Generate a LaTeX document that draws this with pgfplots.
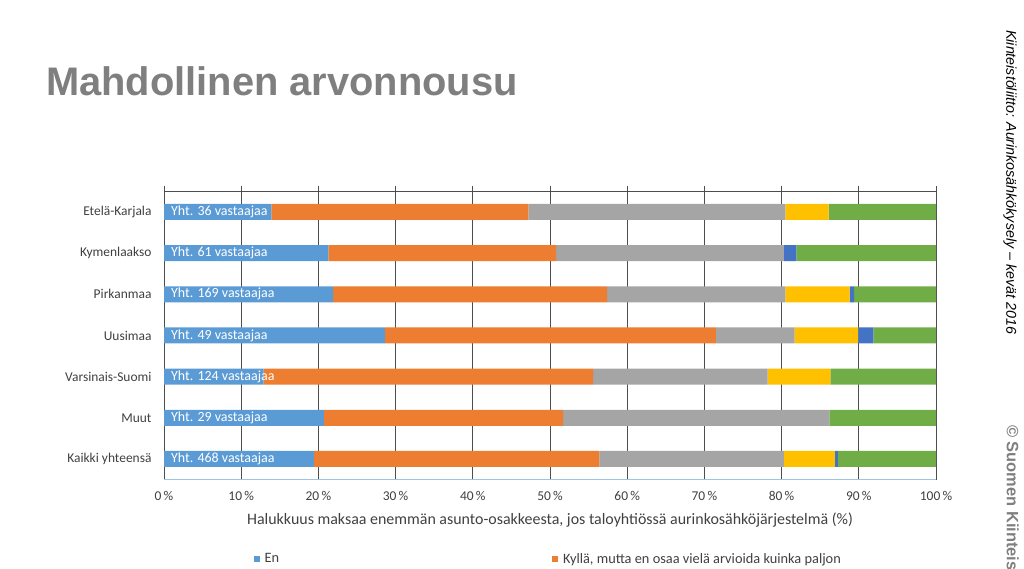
\documentclass[border=0pt]{standalone}
\usepackage{pgfplots}
\pgfplotsset{compat=1.18}
\usepackage{fontspec}
\setmainfont{Carlito}
\newfontfamily\arialf{Liberation Sans}
\definecolor{cEn}{HTML}{5B9BD5}
\definecolor{cKy}{HTML}{ED7D31}
\definecolor{cGr}{HTML}{A5A5A5}
\definecolor{cYe}{HTML}{FFC000}
\definecolor{cDb}{HTML}{4472C4}
\definecolor{cGn}{HTML}{70AD47}
\definecolor{gridc}{HTML}{4D4D4D}
\definecolor{lgrid}{HTML}{D9D9D9}
\definecolor{txt}{HTML}{404040}
\definecolor{titc}{HTML}{7F7F7F}
\definecolor{botc}{HTML}{9DC3E6}
\begin{document}
\begin{tikzpicture}[x=1bp,y=1bp]
\clip (0,0) rectangle (1024,569);
\path[use as bounding box] (0,0) rectangle (1024,569);
% title
\node[anchor=base west, inner sep=0pt, text=titc, font=\arialf\bfseries\fontsize{40}{44}\selectfont] at (46,473) {Mahdollinen arvonnousu};
% right side texts
\node[rotate=-90, anchor=north west, inner sep=0pt, font=\arialf\itshape\fontsize{14.3}{16}\selectfont, text=black] at (1017,539) {Kiinteistöliitto: Aurinkosähkökysely – kevät 2016};
\node[rotate=-90, anchor=north west, inner sep=0pt, font=\arialf\bfseries\fontsize{16.5}{18}\selectfont, text=titc] at (1019,144) {© Suomen Kiinteistöliitto};
\begin{axis}[
  at={(164bp,89bp)}, anchor=south west,
  scale only axis, width=772bp, height=294bp,
  xbar stacked, bar width=16bp,
  xmin=0, xmax=100, ymin=-0.51, ymax=6.63,
  axis line style={draw=none},
  ytick={0,1,2,3,4,5,6},
  yticklabels={Kaikki yhteensä, Muut, Varsinais-Suomi, Uusimaa, Pirkanmaa, Kymenlaakso, Etelä-Karjala},
  xtick={0,10,20,30,40,50,60,70,80,100},
  xticklabels={0\,\%,10\,\%,20\,\%,30\,\%,40\,\%,50\,\%,60\,\%,70\,\%,80\,\%,100\,\%},
  extra x ticks={90},
  extra x tick labels={90\,\%},
  extra x tick style={grid style={color=lgrid, line width=1bp}},
  major tick length=0pt,
  xmajorgrids,
  major grid style={color=gridc, line width=0.8bp},
  ticklabel style={font=\fontsize{13.5}{15}\selectfont, text=txt},
  yticklabel style={font=\fontsize{13.5}{15}\selectfont, text=txt, xshift=-9bp},
  xticklabel style={yshift=-8bp},
  xlabel={Halukkuus maksaa enemmän asunto-osakkeesta, jos taloyhtiössä aurinkosähköjärjestelmä (\%)},
  xlabel style={font=\fontsize{16}{18}\selectfont, text=txt, yshift=-5bp},
  legend entries={En, {Kyllä, mutta en osaa vielä arvioida kuinka paljon}},
  legend columns=2,
  legend style={draw=none, fill=none, at={(axis description cs:0.112,-0.268)}, anchor=west,
    font=\fontsize{14.4}{16}\selectfont, text=txt,
    /tikz/every even column/.append style={column sep=271bp}},
  legend cell align=left,
  legend image code/.code={\fill[#1, draw=none] (0bp,-3bp) rectangle (6bp,3bp); \path (0bp,0bp) -- (9bp,0bp);},
  every axis plot/.append style={draw=none},
]
\addplot[fill=cEn] coordinates {(19.4,0) (20.7,1) (12.9,2) (28.6,3) (21.9,4) (21.3,5) (13.9,6)};
\addplot[fill=cKy] coordinates {(37.0,0) (31.0,1) (42.7,2) (42.9,3) (35.5,4) (29.5,5) (33.3,6)};
\addplot[fill=cGr] coordinates {(23.9,0) (34.5,1) (22.6,2) (10.2,3) (23.1,4) (29.5,5) (33.3,6)};
\addplot[fill=cYe] coordinates {(6.6,0) (0,1) (8.1,2) (8.2,3) (8.3,4) (0,5) (5.6,6)};
\addplot[fill=cDb] coordinates {(0.4,0) (0,1) (0,2) (2.0,3) (0.6,4) (1.6,5) (0,6)};
\addplot[fill=cGn] coordinates {(12.7,0) (13.8,1) (13.7,2) (8.2,3) (10.7,4) (18.1,5) (13.9,6)};
\draw[gridc, line width=0.9bp] (axis cs:0,6.486) -- (axis cs:100,6.486);
\draw[botc, line width=1.2bp] (axis cs:0,-0.51) -- (axis cs:100,-0.51);
\coordinate (L6) at (axis cs:0.9,6);
\coordinate (L5) at (axis cs:0.9,5);
\coordinate (L4) at (axis cs:0.9,4);
\coordinate (L3) at (axis cs:0.9,3);
\coordinate (L2) at (axis cs:0.9,2);
\coordinate (L1) at (axis cs:0.9,1);
\coordinate (L0) at (axis cs:0.9,0);
\end{axis}
\tikzset{yl/.style={anchor=west, text=white, font=\fontsize{14}{16}\selectfont, inner sep=0pt}}
\node[yl] at (L6) {Yht. 36 vastaajaa};
\node[yl] at (L5) {Yht. 61 vastaajaa};
\node[yl] at (L4) {Yht. 169 vastaajaa};
\node[yl] at (L3) {Yht. 49 vastaajaa};
\node[yl] at (L2) {Yht. 124 vastaajaa};
\node[yl] at (L1) {Yht. 29 vastaajaa};
\node[yl] at (L0) {Yht. 468 vastaajaa};
\end{tikzpicture}
\end{document}
